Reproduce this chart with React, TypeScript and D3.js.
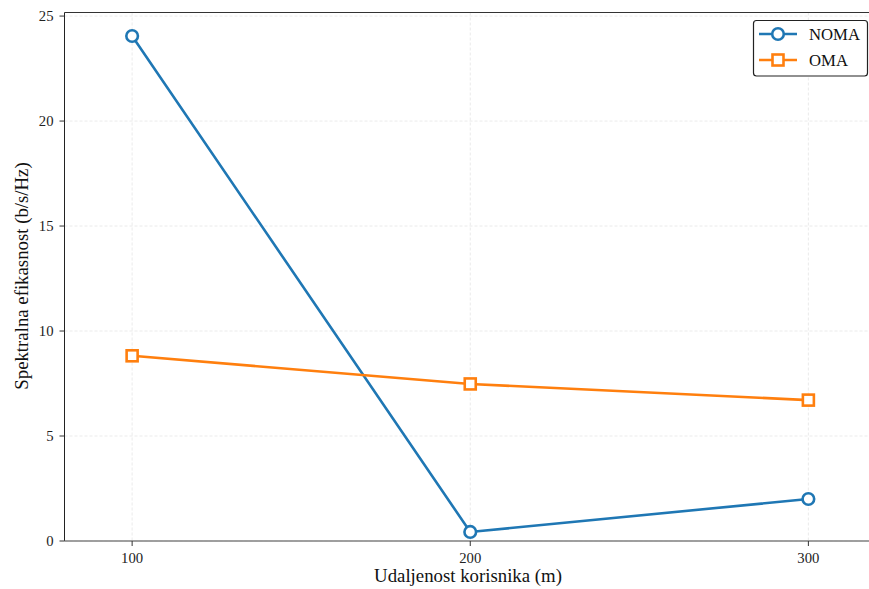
import React from "react";
import * as d3 from "d3";

const distances = [100, 200, 300];
const nomaValues = [24.05, 0.43, 2.0];
const omaValues = [8.82, 7.48, 6.71];
const xTicks = [100, 200, 300];
const yTicks = [0, 5, 10, 15, 20, 25];

const W = 869;
const H = 589;
const left = 64.5;
const right = 876;
const top = 12.5;
const bottom = 541;

export default function App() {
  const x = d3.scaleLinear().domain([80, 320]).range([left, right]);
  const y = d3.scaleLinear().domain([0, 25.17]).range([bottom, top]);
  const line = d3
    .line<number>()
    .x((_, i) => x(distances[i]))
    .y((d) => y(d));
  const font = "'Liberation Serif', 'Times New Roman', serif";
  const blue = "#1f77b4";
  const orange = "#ff7f0e";
  return (
    <svg width={W} height={H} style={{ position: "absolute", left: 0, top: 0 }} fontFamily={font}>
      <rect width={W} height={H} fill="#fff" />
      {/* grid */}
      {yTicks.map((t) => (
        <line key={"gy" + t} x1={left} x2={right} y1={y(t)} y2={y(t)} stroke="#e6e6e6" strokeWidth={0.8} strokeDasharray="3,2" />
      ))}
      {xTicks.map((t) => (
        <line key={"gx" + t} x1={x(t)} x2={x(t)} y1={top} y2={bottom} stroke="#e6e6e6" strokeWidth={0.8} strokeDasharray="3,2" />
      ))}
      {/* spines */}
      <line x1={left} x2={right} y1={top} y2={top} stroke="#333" strokeWidth={1} />
      <line x1={left} x2={left} y1={top} y2={bottom} stroke="#222" strokeWidth={1} />
      <line x1={left} x2={right} y1={bottom} y2={bottom} stroke="#808080" strokeWidth={1.6} />
      {/* ticks */}
      {yTicks.map((t) => (
        <g key={"ty" + t}>
          <line x1={left - 5} x2={left} y1={y(t)} y2={y(t)} stroke="#333" strokeWidth={1} />
          <text x={left - 11} y={y(t)} dy="0.33em" textAnchor="end" fontSize={14.7} fill="#222">
            {t}
          </text>
        </g>
      ))}
      {xTicks.map((t) => (
        <g key={"tx" + t}>
          <line x1={x(t)} x2={x(t)} y1={bottom} y2={bottom + 5} stroke="#333" strokeWidth={1} />
          <text x={x(t)} y={bottom + 22} textAnchor="middle" fontSize={14.7} fill="#222">
            {t}
          </text>
        </g>
      ))}
      {/* axis labels */}
      <text x={468} y={582} textAnchor="middle" fontSize={18.8} fill="#111">
        Udaljenost korisnika (m)
      </text>
      <text transform={`translate(28, 276) rotate(-90)`} textAnchor="middle" fontSize={18.8} fill="#111">
        Spektralna efikasnost (b/s/Hz)
      </text>
      {/* lines */}
      <path d={line(nomaValues) || ""} fill="none" stroke={blue} strokeWidth={2.6} />
      <path d={line(omaValues) || ""} fill="none" stroke={orange} strokeWidth={2.6} />
      {nomaValues.map((v, i) => (
        <circle key={"n" + i} cx={x(distances[i])} cy={y(v)} r={5.8} fill="#fff" stroke={blue} strokeWidth={2.6} />
      ))}
      {omaValues.map((v, i) => (
        <rect key={"o" + i} x={x(distances[i]) - 5.5} y={y(v) - 5.5} width={11} height={11} fill="#fff" stroke={orange} strokeWidth={2.6} />
      ))}
      {/* legend */}
      <rect x={753.5} y={20.5} width={114} height={55.5} rx={3} fill="#fff" stroke="#222" strokeWidth={1.2} />
      <line x1={759} x2={797} y1={34} y2={34} stroke={blue} strokeWidth={2.6} />
      <circle cx={778} cy={34} r={5.8} fill="#fff" stroke={blue} strokeWidth={2.6} />
      <text x={809} y={34} dy="0.35em" fontSize={16.7} fill="#111">NOMA</text>
      <line x1={759} x2={797} y1={60} y2={60} stroke={orange} strokeWidth={2.6} />
      <rect x={772.5} y={54.5} width={11} height={11} fill="#fff" stroke={orange} strokeWidth={2.6} />
      <text x={809} y={60} dy="0.35em" fontSize={16.7} fill="#111">OMA</text>
    </svg>
  );
}
